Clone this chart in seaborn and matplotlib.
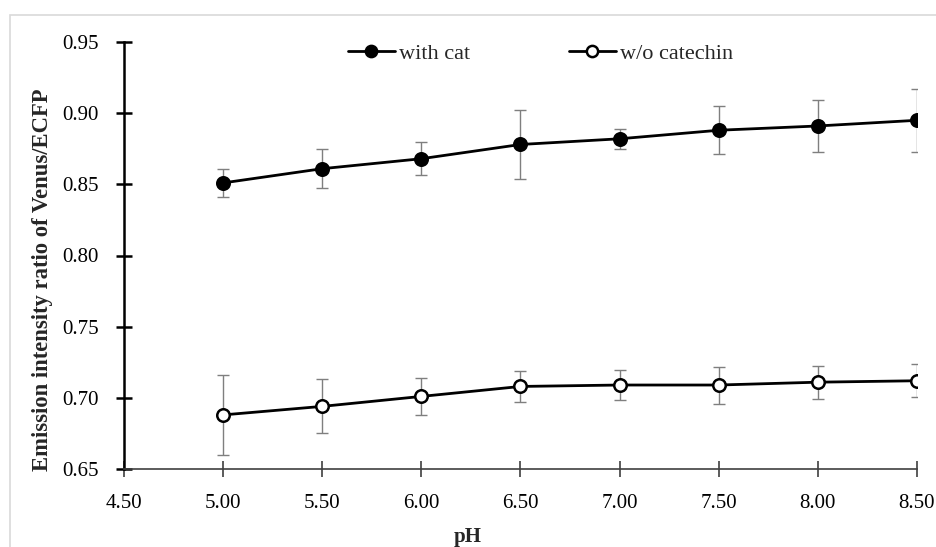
import pandas as pd
import matplotlib.pyplot as plt
import seaborn as sns
from matplotlib.patches import Rectangle

# data
ph = [5.0, 5.5, 6.0, 6.5, 7.0, 7.5, 8.0, 8.5]
with_cat = [0.851, 0.861, 0.868, 0.878, 0.882, 0.888, 0.891, 0.895]
with_cat_err = [0.010, 0.0135, 0.0115, 0.024, 0.007, 0.017, 0.018, 0.022]
wo_cat = [0.688, 0.694, 0.701, 0.708, 0.709, 0.709, 0.711, 0.712]
wo_cat_err = [0.028, 0.019, 0.013, 0.011, 0.0105, 0.013, 0.0115, 0.0115]

df = pd.DataFrame({
    'pH': ph * 2,
    'ratio': with_cat + wo_cat,
    'err': with_cat_err + wo_cat_err,
    'group': ['with cat'] * len(ph) + ['w/o catechin'] * len(ph),
})

sns.set_theme(style="white")
plt.rcParams['font.family'] = ['Liberation Serif', 'DejaVu Serif']

W, H = 937, 547
fig = plt.figure(figsize=(W / 100, H / 100), dpi=100)
ax = fig.add_axes([124 / W, 1 - 469 / H, (917 - 124) / W, (469 - 42) / H])

# light grey chart-area frame
fig.patches.append(Rectangle((10 / W, -0.05), 1.2, 1 - 15 / H + 0.05,
                             transform=fig.transFigure, fill=False,
                             edgecolor='#d9d9d9', linewidth=1.2, zorder=0))

for name, face in [('with cat', 'black'), ('w/o catechin', 'white')]:
    sub = df[df['group'] == name]
    ax.errorbar(sub['pH'], sub['ratio'], yerr=sub['err'], fmt='none',
                ecolor='#7f7f7f', elinewidth=1, capsize=4, capthick=1, zorder=2)
    sns.lineplot(x='pH', y='ratio', data=sub, ax=ax, color='black', linewidth=2,
                 marker='o', markersize=9, markerfacecolor=face,
                 markeredgecolor='black', markeredgewidth=1.8, label=name, zorder=3)

ax.set_xlim(4.5, 8.5)
ax.set_ylim(0.65, 0.95)
ax.set_xticks([4.5, 5.0, 5.5, 6.0, 6.5, 7.0, 7.5, 8.0, 8.5])
ax.set_xticklabels([f'{v:.2f}' for v in ax.get_xticks()])
ax.set_yticks([0.65, 0.70, 0.75, 0.80, 0.85, 0.90, 0.95])
ax.set_yticklabels([f'{v:.2f}' for v in ax.get_yticks()])

for s in ['top', 'right']:
    ax.spines[s].set_visible(False)
ax.spines['left'].set_color('black')
ax.spines['left'].set_linewidth(1.8)
ax.spines['bottom'].set_color('#404040')
ax.spines['bottom'].set_linewidth(1.2)
ax.tick_params(axis='y', left=True, direction='inout', length=12, width=1.8,
               colors='black', labelsize=15, pad=12)
ax.tick_params(axis='x', bottom=True, direction='inout', length=12, width=1.2,
               color='#404040', labelcolor='black', labelsize=15, pad=12)

ax.set_xlabel('pH', fontsize=15, fontweight='bold')
ax.xaxis.set_label_coords(0.434, -0.136)
ax.set_ylabel('Emission intensity ratio of Venus/ECFP', fontsize=16.3, fontweight='bold')
ax.yaxis.set_label_coords(-0.0895, 0.443)

fs = 16
ax.legend(loc='center left',
          bbox_to_anchor=((348 - 0.4 * fs * 1.39 - 124) / 793, (469 - 54) / 427),
          borderaxespad=0, ncol=2, frameon=False, fontsize=fs,
          handlelength=2.1, columnspacing=4.45, handletextpad=0.2, markerscale=0.9)

fig.savefig('out.png', dpi=100)
